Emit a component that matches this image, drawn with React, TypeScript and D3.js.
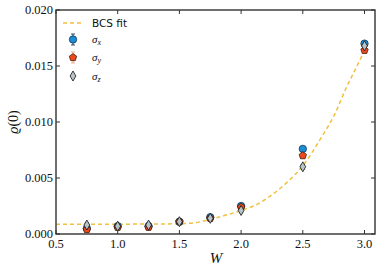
import React from 'react';
import * as d3 from 'd3';

const W_VALUES = [0.75, 1.0, 1.25, 1.5, 1.75, 2.0, 2.5, 3.0];
const SIGMA_X = [0.0005, 0.0007, 0.0007, 0.0011, 0.0015, 0.0025, 0.0076, 0.0170];
const SIGMA_Y = [0.0004, 0.0006, 0.0006, 0.0011, 0.0014, 0.0024, 0.0070, 0.0164];
const SIGMA_Z = [0.0008, 0.0007, 0.0008, 0.0011, 0.0014, 0.0021, 0.0060, 0.0168];
const ERR = [0.0002, 0.0002, 0.0002, 0.0002, 0.0002, 0.0002, 0.0002, 0.0002];

const FIT_W = [0.5, 1.0, 1.25, 1.5, 1.6, 1.75, 1.85, 2.0, 2.13, 2.25, 2.4, 2.5, 2.66, 2.75, 2.85, 2.97, 3.0];
const FIT_RHO = [0.00088, 0.00088, 0.00089, 0.00092, 0.00097, 0.0013, 0.0016, 0.0021, 0.00265, 0.0035, 0.0049, 0.0061, 0.0088, 0.0105, 0.013, 0.0157, 0.0164];

const X_TICKS = [0.5, 1.0, 1.5, 2.0, 2.5, 3.0];
const Y_TICKS = [0.0, 0.005, 0.01, 0.015, 0.02];

const width = 381;
const height = 272;
const margin = { top: 10, right: 6, bottom: 38, left: 56 };

const BLUE = '#1a8fd8';
const RED = '#e84a1c';
const GRAY = '#b7c3c9';
const FIT = '#f0c040';

const serif = '"Liberation Serif", "DejaVu Serif", serif';

const App: React.FC = () => {
  const x = d3.scaleLinear().domain([0.5, 3.085]).range([margin.left, width - margin.right]);
  const y = d3.scaleLinear().domain([0, 0.02]).range([height - margin.bottom, margin.top]);

  const fitLine = d3.line<number>()
    .x((_, i) => x(FIT_W[i]))
    .y(d => y(d))
    .curve(d3.curveMonotoneX)(FIT_RHO) || '';

  const circle = (cx: number, cy: number, key: string) => (
    <circle key={key} cx={cx} cy={cy} r={3.7} fill={BLUE} stroke="#0b2540" strokeWidth={0.7} />
  );
  const pentagon = (cx: number, cy: number, key: string) => {
    const pts = d3.range(5).map(k => {
      const a = -Math.PI / 2 + (k * 2 * Math.PI) / 5;
      return [cx + 3.9 * Math.cos(a), cy + 3.9 * Math.sin(a)].join(',');
    }).join(' ');
    return <polygon key={key} points={pts} fill={RED} stroke="#3a0d00" strokeWidth={0.7} />;
  };
  const diamond = (cx: number, cy: number, key: string) => (
    <polygon key={key} points={`${cx},${cy - 5} ${cx + 2.9},${cy} ${cx},${cy + 5} ${cx - 2.9},${cy}`}
      fill={GRAY} stroke="#111" strokeWidth={0.8} />
  );
  const errBar = (cx: number, v: number, e: number, color: string, key: string) => (
    <g key={key} stroke={color} strokeWidth={0.8}>
      <line x1={cx} x2={cx} y1={y(v - e)} y2={y(v + e)} />
      <line x1={cx - 2} x2={cx + 2} y1={y(v - e)} y2={y(v - e)} />
      <line x1={cx - 2} x2={cx + 2} y1={y(v + e)} y2={y(v + e)} />
    </g>
  );

  const x0 = margin.left;
  const x1 = width - margin.right;
  const y0 = height - margin.bottom;
  const y1 = margin.top;

  return (
    <svg width={width} height={height} style={{ position: 'absolute', left: 0, top: 0, background: '#fff' }}>
      <rect x={0} y={0} width={width} height={height} fill="#fff" />
      <defs>
        <clipPath id="plotclip">
          <rect x={x0} y={y1} width={x1 - x0} height={y0 - y1} />
        </clipPath>
      </defs>

      <g clipPath="url(#plotclip)">
        <path d={fitLine} fill="none" stroke={FIT} strokeWidth={1.5} strokeDasharray="4,3" />
        {W_VALUES.map((w, i) => errBar(x(w), SIGMA_X[i], ERR[i], '#0b2540', `ex${i}`))}
        {W_VALUES.map((w, i) => errBar(x(w), SIGMA_Y[i], ERR[i], '#e8a070', `ey${i}`))}
        {W_VALUES.map((w, i) => errBar(x(w), SIGMA_Z[i], ERR[i], '#111', `ez${i}`))}
        {W_VALUES.map((w, i) => circle(x(w), y(SIGMA_X[i]), `cx${i}`))}
        {W_VALUES.map((w, i) => pentagon(x(w), y(SIGMA_Y[i]), `cy${i}`))}
        {W_VALUES.map((w, i) => diamond(x(w), y(SIGMA_Z[i]), `cz${i}`))}
      </g>

      {/* frame */}
      <rect x={x0} y={y1} width={x1 - x0} height={y0 - y1} fill="none" stroke="#333" strokeWidth={1.4} />

      {/* ticks, pointing inward on all sides */}
      {X_TICKS.map(t => (
        <g key={`xt${t}`} stroke="#333" strokeWidth={1}>
          <line x1={x(t)} x2={x(t)} y1={y0} y2={y0 - 4} />
          <line x1={x(t)} x2={x(t)} y1={y1} y2={y1 + 4} />
        </g>
      ))}
      {Y_TICKS.map(t => (
        <g key={`yt${t}`} stroke="#333" strokeWidth={1}>
          <line x1={x0} x2={x0 + 4} y1={y(t)} y2={y(t)} />
          <line x1={x1} x2={x1 - 4} y1={y(t)} y2={y(t)} />
        </g>
      ))}

      {X_TICKS.map(t => (
        <text key={`xl${t}`} x={x(t)} y={y0 + 14} textAnchor="middle" fontFamily={serif} fontSize={12.5} fill="#111">
          {t.toFixed(1)}
        </text>
      ))}
      {Y_TICKS.map(t => (
        <text key={`yl${t}`} x={x0 - 3} y={y(t) + 4} textAnchor="end" fontFamily={serif} fontSize={12.5} fill="#111">
          {t.toFixed(3)}
        </text>
      ))}

      <text x={216} y={263} textAnchor="middle" fontFamily={serif} fontStyle="italic" fontSize={15} fill="#111">W</text>
      <text transform={`translate(18,${(y0 + y1) / 2}) rotate(-90)`} textAnchor="middle" fontFamily={serif} fontSize={14} fill="#111">
        <tspan fontStyle="italic">ϱ</tspan>(0)
      </text>

      {/* legend */}
      <line x1={63} x2={82} y1={23} y2={23} stroke={FIT} strokeWidth={1.5} strokeDasharray="4,3" />
      <text x={92} y={27} fontFamily='"DejaVu Sans", sans-serif' fontSize={10.5} fill="#111">BCS fit</text>

      <g stroke="#0b2540" strokeWidth={0.8}>
        <line x1={73} x2={73} y1={34} y2={45} />
        <line x1={71} x2={75} y1={34} y2={34} />
        <line x1={71} x2={75} y1={45} y2={45} />
      </g>
      {circle(73, 39.5, 'lcx')}
      <text x={92} y={43} fontFamily={serif} fontStyle="italic" fontSize={11} fill="#111">σ<tspan fontSize={8} dy={2}>x</tspan></text>

      <g stroke="#e8a070" strokeWidth={0.8}>
        <line x1={73} x2={73} y1={52} y2={63} />
        <line x1={71} x2={75} y1={52} y2={52} />
        <line x1={71} x2={75} y1={63} y2={63} />
      </g>
      {pentagon(73, 57.5, 'lcy')}
      <text x={92} y={61} fontFamily={serif} fontStyle="italic" fontSize={11} fill="#111">σ<tspan fontSize={8} dy={2}>y</tspan></text>

      {diamond(73, 76, 'lcz')}
      <text x={92} y={79.5} fontFamily={serif} fontStyle="italic" fontSize={11} fill="#111">σ<tspan fontSize={8} dy={2}>z</tspan></text>
    </svg>
  );
};

export default App;
